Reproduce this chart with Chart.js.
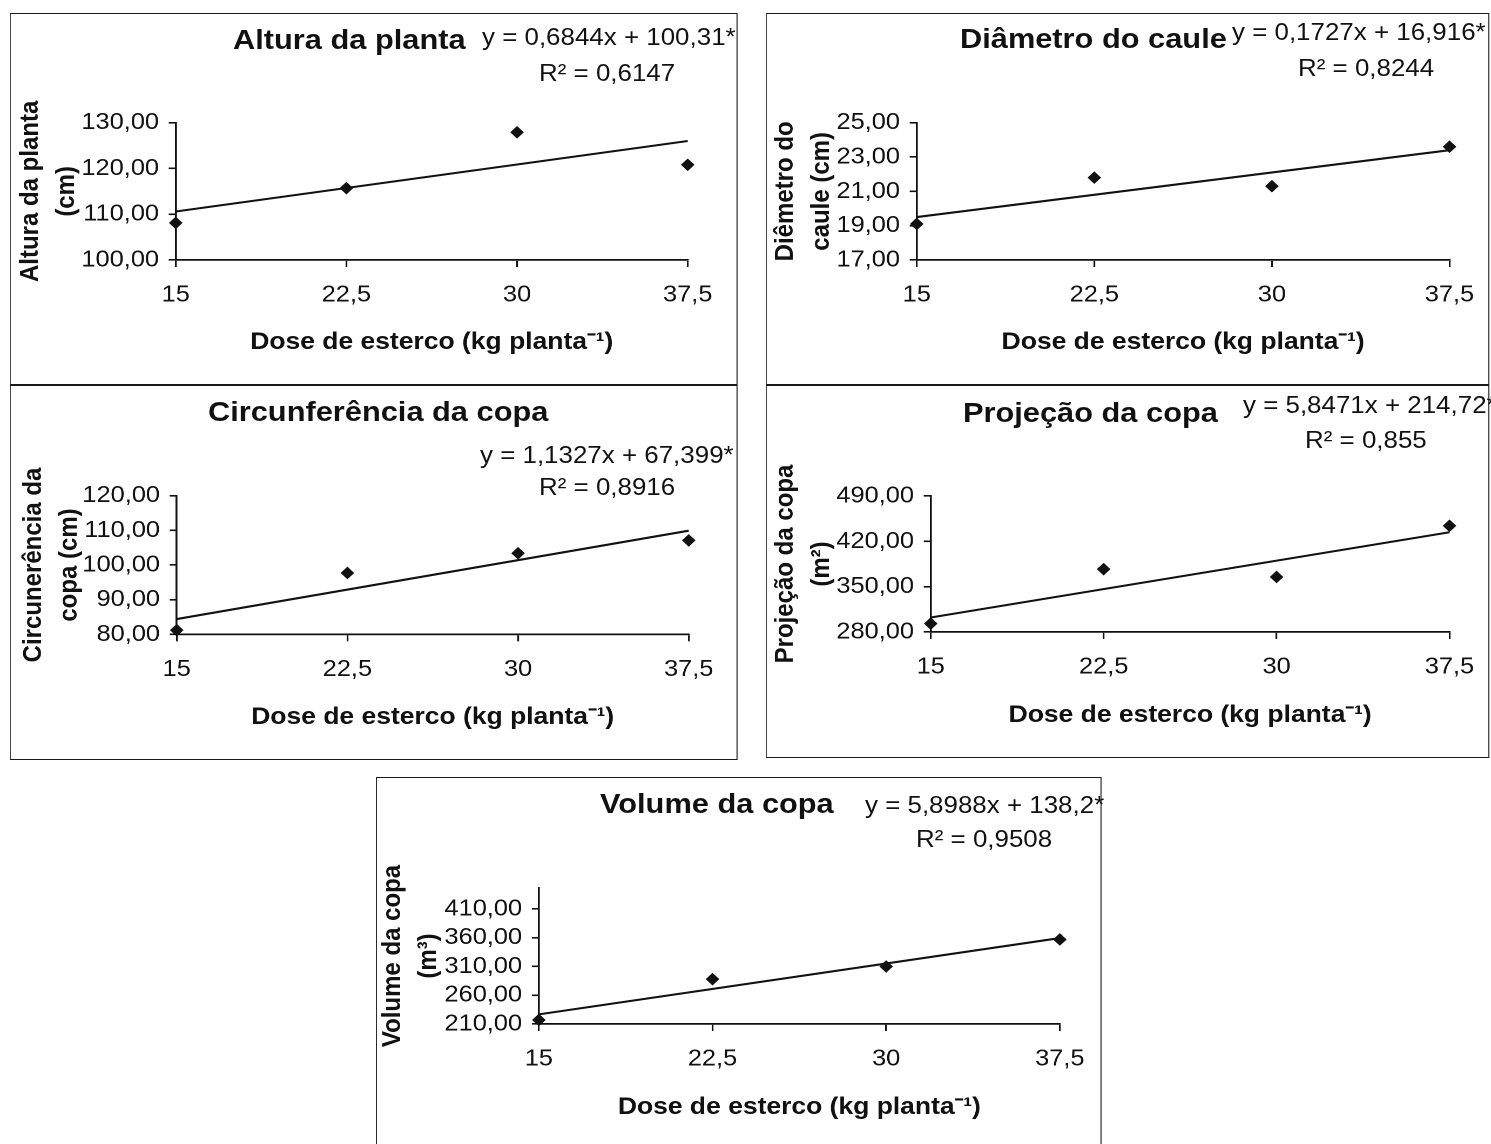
<!DOCTYPE html>
<html>
<head>
<meta charset="utf-8">
<script src="https://cdn.jsdelivr.net/npm/chart.js@4.4.1/dist/chart.umd.min.js"></script>
<style>
  body { margin: 0; background: #fff; overflow: hidden; }
  #stage { position: absolute; left: 0; top: 0; width: 1400px; height: 1144px; transform-origin: 0 0; }
  .box { position: absolute; box-sizing: border-box; border: 1.8px solid #1a1a1a; }
  canvas { position: absolute; }
  .txt { position: absolute; white-space: nowrap; line-height: 1; color: #111;
         font-family: "Liberation Sans", Arial, sans-serif; }
</style>
</head>
<body>
<div id="stage"></div>
<script>
// doses of manure (x axis)
const doses = [15, 22.5, 30, 37.5];

const alturaPlanta = [108.1, 115.7, 127.9, 120.8];
const diametroCaule = [19.1, 21.8, 21.3, 23.6];
const circunferenciaCopa = [81.2, 97.7, 103.4, 107.1];
const projecaoCopa = [293, 377, 365, 444];
const volumeCopa = [217, 288, 310, 357];

// trend line ends (at x = 15 and x = 37.5)
const alturaTrend = [110.6, 126.0];
const diametroTrend = [19.5, 23.4];
const circunferenciaTrend = [84.4, 109.9];
const projecaoTrend = [302.4, 434.0];
const volumeTrend = [226.7, 359.4];

// y tick labels
const alturaTicks = [100, 110, 120, 130];
const diametroTicks = [17, 19, 21, 23, 25];
const circunferenciaTicks = [80, 90, 100, 110, 120];
const projecaoTicks = [280, 350, 420, 490];
const volumeTicks = [210, 260, 310, 360, 410];

const xTitle = "Dose de esterco (kg planta⁻¹)";

const panels = [
  { id: "p1", title: "Altura da planta", eq: "y = 0,6844x + 100,31*", r2: "R² = 0,6147",
    yTitle: ["Altura da planta", "(cm)"], values: alturaPlanta, trend: alturaTrend,
    ticks: alturaTicks, yMin: 100, yMax: 130,
    box: [10, 13, 738, 385], plot: [176, 122.7, 688, 260], yLine: 31,
    tPos: [233, 49], ePos: [482, 45], rPos: [539, 81] },
  { id: "p2", title: "Diâmetro do caule", eq: "y = 0,1727x + 16,916*", r2: "R² = 0,8244",
    yTitle: ["Diêmetro do", "caule (cm)"], values: diametroCaule, trend: diametroTrend,
    ticks: diametroTicks, yMin: 17, yMax: 25,
    box: [766, 13, 1490, 385], plot: [917, 122.7, 1452, 260], yLine: 786,
    tPos: [960, 48], ePos: [1232, 40], rPos: [1298, 76] },
  { id: "p3", title: "Circunferência da copa", eq: "y = 1,1327x + 67,399*", r2: "R² = 0,8916",
    yTitle: ["Circunerência da", "copa (cm)"], values: circunferenciaCopa, trend: circunferenciaTrend,
    ticks: circunferenciaTicks, yMin: 80, yMax: 120,
    box: [10, 385, 738, 760], plot: [177, 495.7, 689, 634.3], yLine: 34,
    tPos: [208, 421], ePos: [480, 463], rPos: [539, 495] },
  { id: "p4", title: "Projeção da copa", eq: "y = 5,8471x + 214,72*", r2: "R² = 0,855",
    yTitle: ["Projeção da copa", "(m²)"], values: projecaoCopa, trend: projecaoTrend,
    ticks: projecaoTicks, yMin: 280, yMax: 490,
    box: [766, 385, 1490, 758], plot: [931, 496, 1452, 632], yLine: 786,
    tPos: [963, 422], ePos: [1243, 413], rPos: [1305, 448] },
  { id: "p5", title: "Volume da copa", eq: "y = 5,8988x + 138,2*", r2: "R² = 0,9508",
    yTitle: ["Volume da copa", "(m³)"], values: volumeCopa, trend: volumeTrend,
    ticks: volumeTicks, yMin: 210, yMax: 446.5,
    box: [376, 777, 1102, 1150], plot: [539, 888, 1060, 1024], yLine: 393,
    tPos: [600, 813], ePos: [865, 813], rPos: [916, 847] }
];

// the original picture is stretched sideways; draw narrow and stretch the whole stage
const S = 1.08;
const FONT = "'Liberation Sans', Arial, sans-serif";
const INK = "#111";
const Y_TITLE_SIZE = 24;
const Y_TITLE_GAP = 36; // page px between the two lines of the y title
const stage = document.getElementById("stage");
stage.style.transform = `scaleX(${S})`;

const addText = (text, pos, size, bold) => {
  const el = document.createElement("div");
  el.className = "txt";
  el.textContent = text;
  el.style.fontSize = size + "px";
  el.style.fontWeight = bold ? "bold" : "normal";
  el.style.left = (pos[0] / S) + "px";
  el.style.top = (pos[1] - 0.8465 * size) + "px";
  stage.appendChild(el);
};

const comma = (v, digits) => (digits === undefined ? String(v) : v.toFixed(digits)).replace(".", ",");

const drawPanel = (p) => {
  const [L, T, R, B] = p.box;
  const [pl, pt, pr, pb] = p.plot;
  const left = L / S;
  const width = Math.round((R - L) / S);
  const height = B - T;

  const canvas = document.createElement("canvas");
  canvas.id = p.id;
  canvas.width = width;
  canvas.height = height;
  canvas.style.left = left + "px";
  canvas.style.top = T + "px";
  canvas.style.width = width + "px";
  canvas.style.height = height + "px";
  stage.appendChild(canvas);

  const box = document.createElement("div");
  box.className = "box";
  box.style.left = left + "px";
  box.style.top = T + "px";
  box.style.width = width + "px";
  box.style.height = height + "px";
  stage.appendChild(box);

  addText(p.title, p.tPos, 28.5, true);
  addText(p.eq, p.ePos, 24, false);
  addText(p.r2, p.rPos, 24, false);

  const yWidth = (pl - L) / S;
  const xHeight = B - pb;
  const padRight = width - (pr / S - left);
  const lh = Y_TITLE_GAP / S;
  const yPad = (p.yLine - L) / S - lh / 2;

  new Chart(canvas, {
    type: "scatter",
    data: {
      datasets: [{
        data: doses.map((d, i) => ({ x: d, y: p.values[i] })),
        pointStyle: "rectRot",
        pointRadius: 6.3,
        pointBackgroundColor: INK,
        pointBorderColor: INK,
        pointBorderWidth: 0,
        clip: false
      }, {
        type: "line",
        data: [{ x: doses[0], y: p.trend[0] }, { x: doses[doses.length - 1], y: p.trend[1] }],
        borderColor: INK,
        borderWidth: 2.1,
        pointRadius: 0,
        fill: false,
        clip: false
      }]
    },
    options: {
      responsive: false,
      animation: false,
      devicePixelRatio: 2,
      events: [],
      layout: { padding: { top: pt - T, right: padRight, left: 0, bottom: 0 } },
      plugins: { legend: { display: false }, tooltip: { enabled: false } },
      scales: {
        x: {
          type: "linear",
          min: doses[0],
          max: doses[doses.length - 1],
          afterBuildTicks: (s) => { s.ticks = doses.map(v => ({ value: v })); },
          afterFit: (s) => { s.height = xHeight; },
          ticks: { callback: (v) => comma(v), color: INK, padding: 14,
                   font: { family: FONT, size: 23.5 } },
          grid: { drawOnChartArea: false, drawTicks: true, tickLength: 7, color: INK, lineWidth: 1.6 },
          border: { display: true, color: INK, width: 1.8 },
          title: { display: true, text: xTitle, color: INK, padding: { top: 0, bottom: 28 },
                   font: { family: FONT, size: 24.5, weight: "bold" } }
        },
        y: {
          min: p.yMin,
          max: p.yMax,
          afterBuildTicks: (s) => { s.ticks = p.ticks.map(v => ({ value: v })); },
          afterFit: (s) => { s.width = yWidth; },
          ticks: { callback: (v) => comma(v, 2), color: INK, padding: 9,
                   font: { family: FONT, size: 23.5 } },
          grid: { drawOnChartArea: false, drawTicks: true, tickLength: 6.5, color: INK, lineWidth: 1.6 },
          border: { display: true, color: INK, width: 1.8 },
          title: { display: true, text: p.yTitle, color: INK, padding: { top: yPad, bottom: 0 },
                   font: { family: FONT, size: Y_TITLE_SIZE, weight: "bold", lineHeight: lh / Y_TITLE_SIZE } }
        }
      }
    }
  });
};

panels.forEach(drawPanel);
</script>
</body>
</html>
